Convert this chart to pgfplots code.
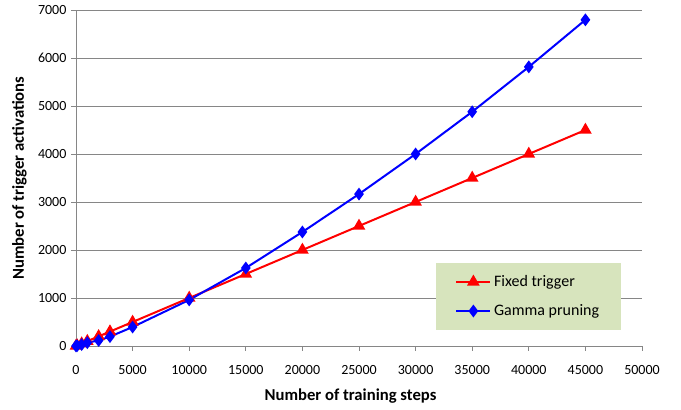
\documentclass[border=0pt]{standalone}
\usepackage{fontspec}
\setmainfont{Carlito}
\usepackage{pgfplots}
\pgfplotsset{compat=1.18}
\definecolor{gridgray}{HTML}{868686}
\definecolor{legbg}{HTML}{D7E4BD}
\begin{document}
\fontsize{10.5}{12}\selectfont
\begin{tikzpicture}
\begin{axis}[
  name=ax,
  scale only axis, width=424.5pt, height=252pt,
  xmin=0, xmax=50000, ymin=0, ymax=7000,
  xtick={0,5000,...,50000}, ytick={0,1000,...,7000},
  scaled ticks=false,
  /pgf/number format/assume math mode=true,
  /pgf/number format/1000 sep={},
  ticklabel style={font=\fontsize{10.5}{12}\selectfont},
  xticklabel style={yshift=-7.5pt},
  axis lines*=left,
  axis line style={gridgray, line width=0.6pt},
  ymajorgrids, grid style={gridgray, line width=0.6pt},
  tick align=outside, major tick length=3.5pt,
  tick style={gridgray, line width=0.6pt},
  xlabel={\textbf{Number of training steps}},
  ylabel={\textbf{Number of trigger activations}},
  xlabel style={at={(axis description cs:0.485,-0.15)}, anchor=center, font=\fontsize{12.5}{14}\selectfont},
  ylabel style={at={(axis description cs:-0.1,0.5)}, anchor=center, font=\fontsize{12.5}{14}\selectfont},
  legend style={at={(0.636,0.247)}, anchor=north west, fill=legbg, draw=none,
    inner xsep=14.3pt, inner ysep=7pt, row sep=8pt,
    font=\fontsize{12}{14}\selectfont},
  legend cell align=left,
  legend image code/.code={\draw[mark repeat=2,mark phase=2] plot coordinates {(0cm,0cm)(0.45cm,0cm)(0.9cm,0cm)};},
]
\addplot[red, line width=1.5pt, mark=triangle*, mark size=4pt, mark options={solid}] coordinates {
(0,0)(100,10)(500,50)(1000,100)(2000,200)(3000,300)(5000,500)(10000,1000)(15000,1500)(20000,2000)(25000,2500)(30000,3000)(35000,3500)(40000,4000)(45000,4500)};
\addlegendentry{Fixed trigger}
\addplot[blue, line width=1.5pt, mark=diamond*, mark size=3.6pt, mark options={solid}] coordinates {
(0,0)(100,5)(500,30)(1000,70)(2000,115)(3000,195)(5000,395)(10000,960)(15000,1625)(20000,2375)(25000,3165)(30000,4000)(35000,4880)(40000,5815)(45000,6795)};
\addlegendentry{Gamma pruning}
\end{axis}
\path[use as bounding box] ([shift={(-57pt,-48pt)}]ax.south west) rectangle ([shift={(29.25pt,7.5pt)}]ax.north east);
\end{tikzpicture}
\end{document}
